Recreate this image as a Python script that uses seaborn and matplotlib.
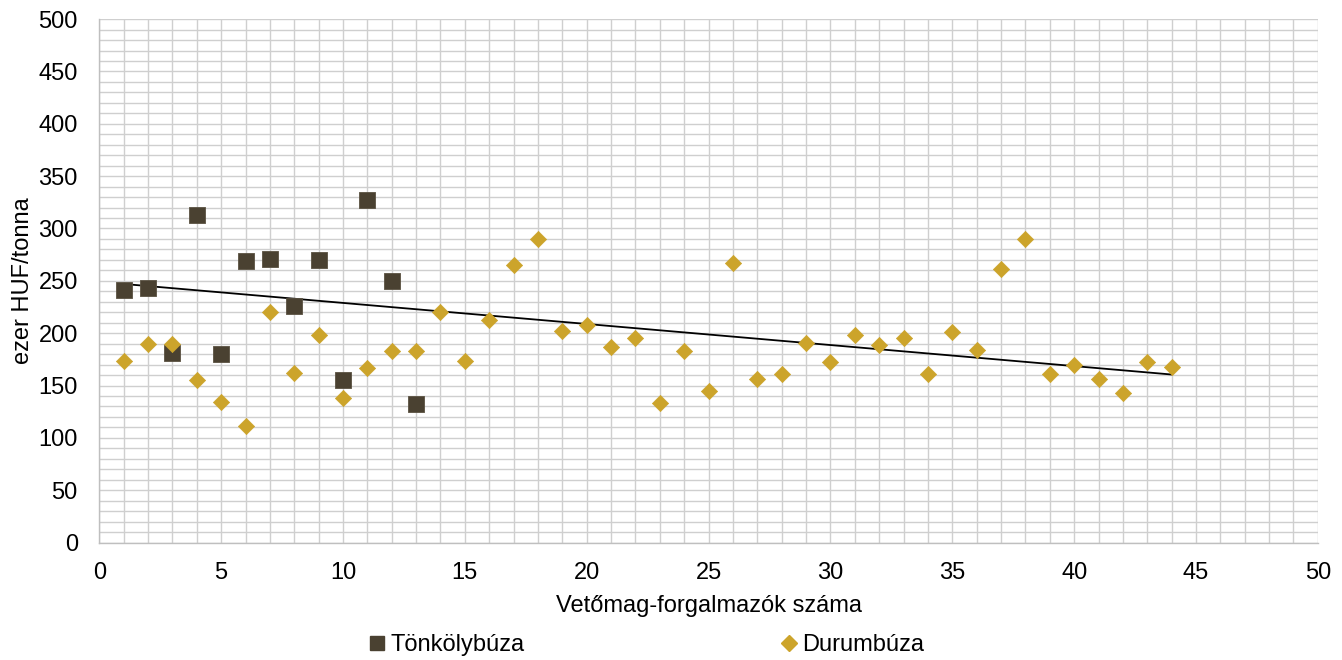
import matplotlib
matplotlib.use("Agg")
import matplotlib.pyplot as plt
from matplotlib.ticker import MultipleLocator
from matplotlib.lines import Line2D
import seaborn as sns

# Tönkölybúza (spelt) prices
spelt_x = [1, 2, 3, 4, 5, 6, 7, 8, 9, 10, 11, 12, 13]
spelt_y = [241, 243, 181, 313, 180, 269, 271, 226, 270, 155, 327, 250, 132]

# Durumbúza (durum) prices
durum_x = list(range(1, 45))
durum_y = [173, 190, 190, 155, 134, 111, 220, 162, 198, 138,
           167, 183, 183, 220, 173, 213, 265, 290, 202, 208,
           187, 195, 133, 183, 145, 267, 156, 161, 191, 172,
           198, 189, 195, 161, 201, 184, 261, 290, 161, 170,
           156, 143, 172, 168]

# linear trend line, end points
trend_x = [1, 44]
trend_y = [247, 160.5]

spelt_color = "#4A4131"
durum_color = "#CCA42B"

sns.set_theme(style="whitegrid")
plt.rcParams["font.family"] = ["Liberation Sans", "DejaVu Sans"]

fig = plt.figure(figsize=(13.42, 6.6), dpi=100)
ax = fig.add_axes([0.074, 0.178, 0.908, 0.793])

sns.lineplot(x=trend_x, y=trend_y, color="black", linewidth=1.3, ax=ax, zorder=3)
sns.scatterplot(x=spelt_x, y=spelt_y, marker="s", s=140, color=spelt_color,
                edgecolor="#5a5242", linewidth=0.6, ax=ax, zorder=4)
sns.scatterplot(x=durum_x, y=durum_y, marker="D", s=68, color=durum_color,
                edgecolor=durum_color, linewidth=0.5, ax=ax, zorder=4)

ax.set_xlim(0, 50)
ax.set_ylim(0, 500)
ax.xaxis.set_major_locator(MultipleLocator(5))
ax.xaxis.set_minor_locator(MultipleLocator(1))
ax.yaxis.set_major_locator(MultipleLocator(50))
ax.yaxis.set_minor_locator(MultipleLocator(10))
ax.grid(True, which="both", color="#CFCFCF", linewidth=1.0)
ax.set_axisbelow(True)
for side, sp in ax.spines.items():
    sp.set_color("#BFBFBF")
    sp.set_linewidth(1.0)
ax.spines["top"].set_visible(False)
ax.spines["right"].set_visible(False)

ax.tick_params(axis="both", which="both", length=0, labelsize=17, colors="black")
ax.tick_params(axis="x", pad=14)
ax.tick_params(axis="y", pad=15.5)

ax.set_xlabel("Vetőmag-forgalmazók száma", fontsize=17, labelpad=8, color="black")
ax.set_ylabel("ezer HUF/tonna", fontsize=17, labelpad=3, color="black")

handles = [
    Line2D([], [], linestyle="none", marker="s", markersize=10, color=spelt_color),
    Line2D([], [], linestyle="none", marker="D", markersize=8, color=durum_color),
]
leg = fig.legend(handles, ["Tönkölybúza", "Durumbúza"], loc="center",
                 bbox_to_anchor=(0.482, 0.023), ncol=2, frameon=False, fontsize=17,
                 handlelength=0.6, handletextpad=0.25, columnspacing=10.9)
for t in leg.get_texts():
    t.set_color("black")

fig.savefig("out.png", dpi=100, facecolor="white")
